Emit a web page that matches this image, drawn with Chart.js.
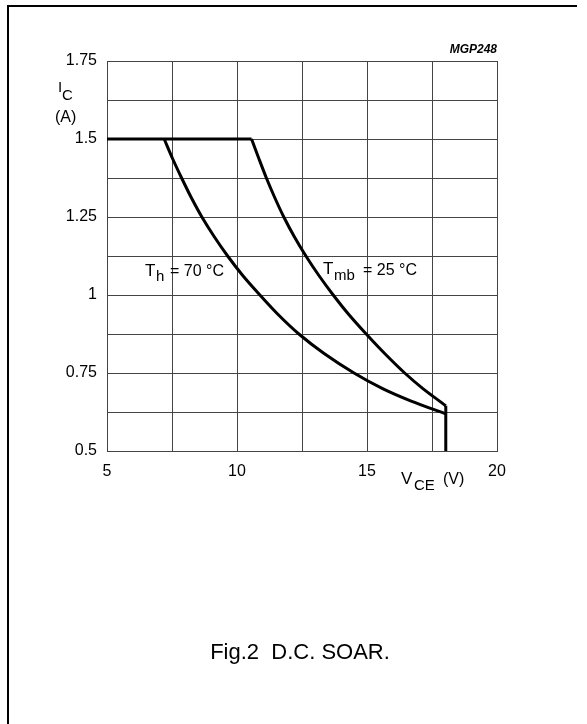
<!DOCTYPE html>
<html>
<head>
<meta charset="utf-8">
<script src="https://cdn.jsdelivr.net/npm/chart.js@4/dist/chart.umd.min.js"></script>
<style>
  body { margin: 0; background: #fff; }
  #wrap { width: 587px; height: 724px; position: relative; }
</style>
</head>
<body>
<div id="wrap"><canvas id="soar"></canvas></div>
<script>
// D.C. SOAR, Ic (A) vs Vce (V)
const x_ticks = [5, 10, 15, 20];
const y_ticks = [0.5, 0.75, 1, 1.25, 1.5, 1.75];

// current limit at 1.5 A
const limit_v = [5, 10.56];
const limit_i = [1.5, 1.5];

// Tmb = 25 degC
const tmb_v = [10.56, 10.84, 11.13, 11.45, 11.8, 12.2, 12.65, 13.15, 13.7, 14.3, 14.97, 15.68, 16.45, 17.15, 18.03];
const tmb_i = [1.5, 1.4375, 1.375, 1.3125, 1.25, 1.1875, 1.125, 1.0625, 1.0, 0.9375, 0.875, 0.8125, 0.75, 0.7, 0.645];

// Th = 70 degC
const th_v = [7.2, 7.52, 7.87, 8.24, 8.65, 9.12, 9.64, 10.22, 10.88, 11.58, 12.38, 13.35, 14.5, 15.6, 16.7, 18.03];
const th_i = [1.5, 1.4375, 1.375, 1.3125, 1.25, 1.1875, 1.125, 1.0625, 1.0, 0.9375, 0.875, 0.8125, 0.75, 0.7, 0.66, 0.619];

// voltage limit
const vmax_v = [18.03, 18.03];
const vmax_i = [0.645, 0.5];

function to_points(xs, ys) {
  return xs.map(function (x, i) { return { x: x, y: ys[i] }; });
}

const FONT = '"Liberation Sans", Arial, sans-serif';
const INK = '#000';

function line_ds(xs, ys, curved) {
  return {
    data: to_points(xs, ys),
    showLine: true,
    borderColor: INK,
    borderWidth: 3,
    pointRadius: 0,
    fill: false,
    tension: curved ? 0.3 : 0
  };
}

const labels_plugin = {
  id: 'soar_labels',
  afterDraw: function (chart) {
    const ctx = chart.ctx;
    const xs = chart.scales.x;
    const ys = chart.scales.y;
    const area = chart.chartArea;
    ctx.save();
    ctx.fillStyle = INK;
    ctx.strokeStyle = INK;

    // frame (top and left edges only)
    ctx.lineWidth = 2;
    ctx.beginPath();
    ctx.moveTo(577, 6);
    ctx.lineTo(8, 6);
    ctx.lineTo(8, 724);
    ctx.stroke();

    ctx.textBaseline = 'alphabetic';
    ctx.textAlign = 'left';

    // y title
    ctx.font = '15px ' + FONT;
    ctx.fillText('I', 58, 92);
    ctx.font = '15px ' + FONT;
    ctx.fillText('C', 62, 100);
    ctx.font = '16px ' + FONT;
    ctx.fillText('(A)', 55, 122);

    // x title
    ctx.font = '17px ' + FONT;
    ctx.fillText('V', 401, 484);
    ctx.font = '15px ' + FONT;
    ctx.fillText('CE', 414, 490);
    ctx.font = '16px ' + FONT;
    ctx.fillText('(V)', 443, 484);

    // figure code
    ctx.font = 'italic bold 12px ' + FONT;
    ctx.textAlign = 'right';
    ctx.fillText('MGP248', area.right, 53);

    // curve labels
    ctx.textAlign = 'left';
    let px = xs.getPixelForValue(6.46);
    let py = ys.getPixelForValue(1.061);
    ctx.font = '17px ' + FONT;
    ctx.fillText('T', px, py);
    ctx.font = '15px ' + FONT;
    ctx.fillText('h', px + 11, py + 5);
    ctx.font = '16px ' + FONT;
    ctx.fillText('= 70 \u00B0C', px + 25, py);

    px = xs.getPixelForValue(13.31);
    py = ys.getPixelForValue(1.064);
    ctx.font = '17px ' + FONT;
    ctx.fillText('T', px, py - 1);
    ctx.font = '15px ' + FONT;
    ctx.fillText('mb', px + 11, py + 5);
    ctx.font = '16px ' + FONT;
    ctx.fillText('= 25 \u00B0C', px + 40, py);

    // caption
    ctx.textAlign = 'center';
    ctx.font = '22px ' + FONT;
    ctx.fillText('Fig.2  D.C. SOAR.', 300, 659);

    ctx.restore();
  }
};

function create_chart() {
  const grid_color = '#444';
  const config = {
    type: 'scatter',
    data: {
      datasets: [
        line_ds(limit_v, limit_i, false),
        line_ds(tmb_v, tmb_i, true),
        line_ds(th_v, th_i, true),
        line_ds(vmax_v, vmax_i, false)
      ]
    },
    options: {
      responsive: true,
      maintainAspectRatio: false,
      animation: false,
      events: [],
      layout: { padding: { left: 0, top: 61, right: 90, bottom: 243 } },
      plugins: { legend: { display: false }, tooltip: { enabled: false } },
      scales: {
        x: {
          type: 'linear',
          min: 5,
          max: 20,
          afterFit: function (s) { s.height = 30; },
          grid: { color: grid_color, lineWidth: 1, drawTicks: false },
          border: { color: grid_color, width: 1 },
          ticks: {
            stepSize: 2.5,
            autoSkip: false,
            maxRotation: 0,
            padding: 11,
            color: INK,
            font: { family: FONT, size: 16 },
            callback: function (v) { return x_ticks.indexOf(v) >= 0 ? String(v) : ''; }
          }
        },
        y: {
          type: 'linear',
          min: 0.5,
          max: 1.75,
          afterFit: function (s) { s.width = 107; },
          grid: { color: grid_color, lineWidth: 1, drawTicks: false },
          border: { color: grid_color, width: 1 },
          ticks: {
            stepSize: 0.125,
            autoSkip: false,
            padding: 10,
            color: INK,
            font: { family: FONT, size: 16 },
            callback: function (v) { return y_ticks.indexOf(v) >= 0 ? String(v) : ''; }
          }
        }
      }
    },
    plugins: [labels_plugin]
  };
  new Chart(document.getElementById('soar').getContext('2d'), config);
}

create_chart();
</script>
</body>
</html>
